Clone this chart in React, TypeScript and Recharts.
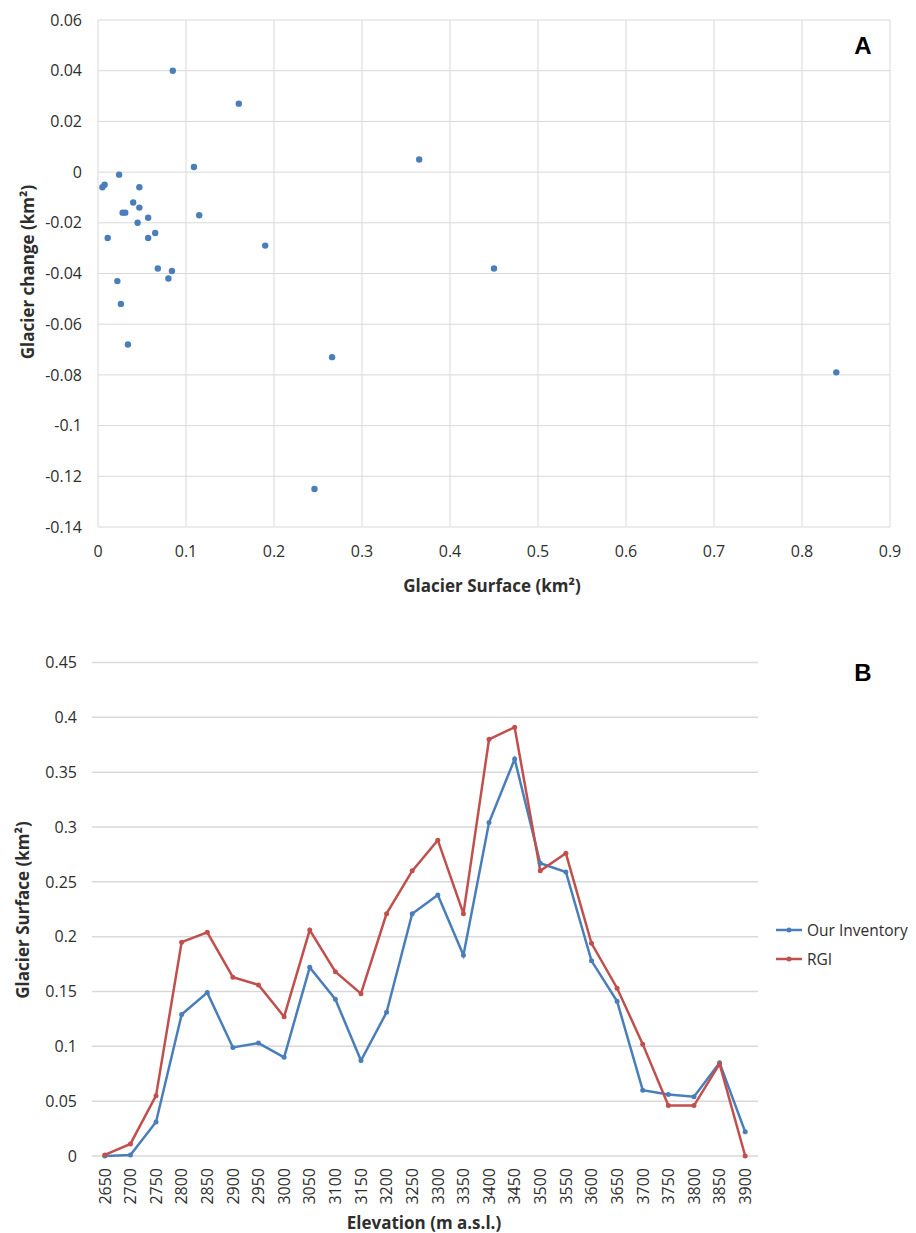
import {
  ScatterChart,
  Scatter,
  LineChart,
  Line,
  XAxis,
  YAxis,
  CartesianGrid,
  Legend
} from 'recharts';

// Panel A: glacier surface vs glacier change
const glacierSurfaceA = [
  0.005, 0.0075, 0.011, 0.022, 0.024, 0.026, 0.028, 0.031, 0.034, 0.04,
  0.045, 0.047, 0.047, 0.057, 0.057, 0.065, 0.068, 0.08, 0.084, 0.085,
  0.109, 0.115, 0.16, 0.19, 0.246, 0.266, 0.365, 0.45, 0.839
];
const glacierChangeA = [
  -0.006, -0.005, -0.026, -0.043, -0.001, -0.052, -0.016, -0.016, -0.068, -0.012,
  -0.02, -0.006, -0.014, -0.018, -0.026, -0.024, -0.038, -0.042, -0.039, 0.04,
  0.002, -0.017, 0.027, -0.029, -0.125, -0.073, 0.005, -0.038, -0.079
];
const surfaceTicksA = [0, 0.1, 0.2, 0.3, 0.4, 0.5, 0.6, 0.7, 0.8, 0.9];
const changeTicksA = [-0.14, -0.12, -0.1, -0.08, -0.06, -0.04, -0.02, 0, 0.02, 0.04, 0.06];

// Panel B: glacier surface per elevation band
const elevations = [
  '2650', '2700', '2750', '2800', '2850', '2900', '2950', '3000', '3050', '3100',
  '3150', '3200', '3250', '3300', '3350', '3400', '3450', '3500', '3550', '3600',
  '3650', '3700', '3750', '3800', '3850', '3900'
];
const ourInventory = [
  0, 0.001, 0.031, 0.129, 0.149, 0.099, 0.103, 0.09, 0.172, 0.143,
  0.087, 0.131, 0.221, 0.238, 0.183, 0.304, 0.362, 0.267, 0.259, 0.178,
  0.141, 0.06, 0.056, 0.054, 0.085, 0.022
];
const rgi = [
  0.001, 0.011, 0.055, 0.195, 0.204, 0.163, 0.156, 0.127, 0.206, 0.168,
  0.148, 0.221, 0.26, 0.288, 0.221, 0.38, 0.391, 0.26, 0.276, 0.194,
  0.153, 0.102, 0.046, 0.046, 0.084, 0
];
const surfaceTicksB = [0, 0.05, 0.1, 0.15, 0.2, 0.25, 0.3, 0.35, 0.4, 0.45];
const seriesNames = ['Our Inventory', 'RGI'];
const seriesColors = ['#4a7ebb', '#c0504d'];

const FONT = '"Open Sans", sans-serif';
const TEXT = '#2e2e2e';
const GRID = '#d9d9d9';

const fmt = (v: number) => String(parseFloat(Number(v).toFixed(3)));

const scatterData = glacierSurfaceA.map((x, i) => ({ x, y: glacierChangeA[i] }));
const lineData = elevations.map((elevation, i) => ({
  elevation,
  ours: ourInventory[i],
  rgi: rgi[i]
}));

const tickStyle = { fill: TEXT, fontSize: 16, fontFamily: FONT };

const Dot = (props: { cx?: number; cy?: number }) => (
  <circle cx={props.cx} cy={props.cy} r={3.2} fill={seriesColors[0]} />
);

const RotatedTick = ({ x, y, payload }: { x?: number; y?: number; payload?: { value: string } }) => (
  <g transform={`translate(${x},${y})`}>
    <text transform="rotate(-90)" textAnchor="end" dy="0.36em" fill={TEXT} fontSize={16} fontFamily={FONT}>
      {payload?.value}
    </text>
  </g>
);

const axisTitle = (text: string, x: number, y: number, rotate = false) => () => (
  <text
    x={x}
    y={y}
    textAnchor="middle"
    dominantBaseline="central"
    transform={rotate ? `rotate(-90 ${x} ${y})` : undefined}
    fill={TEXT}
    fontSize={17}
    fontWeight={700}
    fontFamily={FONT}
  >
    {text}
  </text>
);

const LegendContent = () => (
  <div style={{ fontFamily: FONT, fontSize: 15.5, color: TEXT }}>
    {seriesNames.map((name, i) => (
      <div key={name} style={{ display: 'flex', alignItems: 'center', height: 28.6 }}>
        <svg width={26} height={10} style={{ marginRight: 5 }}>
          <line x1={0} y1={5} x2={26} y2={5} stroke={seriesColors[i]} strokeWidth={2.5} />
          <circle cx={13} cy={5} r={2.5} fill={seriesColors[i]} />
        </svg>
        <span>{name}</span>
      </div>
    ))}
  </div>
);

const panelLabel = (text: string, cx: number, cy: number) => (
  <div
    style={{
      position: 'absolute',
      left: cx - 15,
      top: cy - 12,
      width: 30,
      textAlign: 'center',
      fontFamily: '"Liberation Sans", Arial, sans-serif',
      fontWeight: 700,
      fontSize: 24,
      lineHeight: '24px',
      color: '#000'
    }}
  >
    {text}
  </div>
);

export default function App() {
  return (
    <div style={{ position: 'absolute', left: 0, top: 0, width: 916, height: 1233, background: '#fff' }}>
      <div style={{ position: 'absolute', left: 0, top: 0 }}>
        <ScatterChart width={916} height={610} margin={{ top: 20, right: 26, bottom: 53, left: 38 }}>
          <CartesianGrid stroke={GRID} strokeWidth={1} />
          <XAxis
            type="number"
            dataKey="x"
            domain={[0, 0.9]}
            ticks={surfaceTicksA}
            tickFormatter={fmt}
            axisLine={false}
            tickLine={false}
            tickMargin={13}
            height={30}
            tick={tickStyle}
            label={{ content: axisTitle('Glacier Surface (km²)', 492, 585) }}
          />
          <YAxis
            type="number"
            dataKey="y"
            domain={[-0.14, 0.06]}
            ticks={changeTicksA}
            tickFormatter={fmt}
            axisLine={false}
            tickLine={false}
            tickMargin={10}
            width={60}
            tick={tickStyle}
            label={{ content: axisTitle('Glacier change (km²)', 27, 272, true) }}
          />
          <Scatter data={scatterData} shape={Dot} isAnimationActive={false} />
        </ScatterChart>
      </div>
      <div style={{ position: 'absolute', left: 0, top: 610 }}>
        <LineChart width={916} height={623} data={lineData} margin={{ top: 52.5, right: 18, bottom: 27, left: 32 }}>
          <CartesianGrid stroke={GRID} strokeWidth={1.5} vertical={false} />
          <XAxis
            dataKey="elevation"
            padding={{ left: 12.8, right: 12.8 }}
            interval={0}
            axisLine={false}
            tickLine={false}
            tickMargin={6}
            height={50}
            tick={<RotatedTick />}
            label={{ content: axisTitle('Elevation (m a.s.l.)', 424, 612) }}
          />
          <YAxis
            type="number"
            domain={[0, 0.45]}
            ticks={surfaceTicksB}
            tickFormatter={fmt}
            axisLine={false}
            tickLine={false}
            tickMargin={9}
            width={60}
            tick={tickStyle}
            label={{ content: axisTitle('Glacier Surface (km²)', 22, 300, true) }}
          />
          <Legend
            layout="vertical"
            align="right"
            verticalAlign="middle"
            content={<LegendContent />}
            wrapperStyle={{ left: 776, top: 306, width: 140 }}
          />
          <Line
            dataKey="ours"
            name={seriesNames[0]}
            stroke={seriesColors[0]}
            strokeWidth={2.5}
            dot={{ r: 2.5, fill: seriesColors[0], stroke: seriesColors[0], strokeWidth: 0 }}
            isAnimationActive={false}
          />
          <Line
            dataKey="rgi"
            name={seriesNames[1]}
            stroke={seriesColors[1]}
            strokeWidth={2.5}
            dot={{ r: 2.5, fill: seriesColors[1], stroke: seriesColors[1], strokeWidth: 0 }}
            isAnimationActive={false}
          />
        </LineChart>
      </div>
      {panelLabel('A', 863, 46)}
      {panelLabel('B', 863, 673)}
    </div>
  );
}
